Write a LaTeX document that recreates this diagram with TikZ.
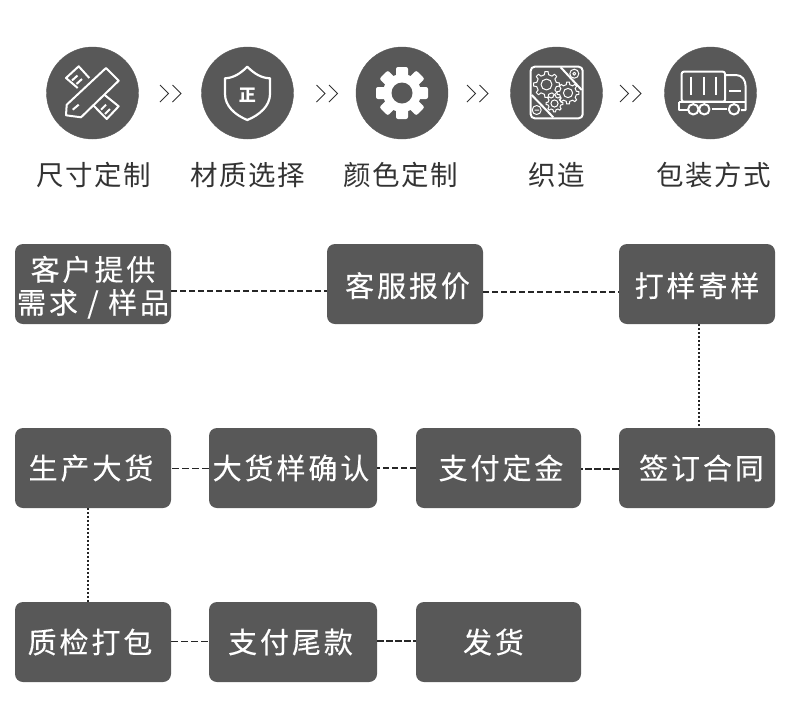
\documentclass[tikz,border=0pt]{standalone}
\usepackage{fontspec}
\newfontfamily\cjkbox[LetterSpace=10,FakeBold=0.3]{Noto Sans CJK SC}
\newfontfamily\cjklabel[LetterSpace=5]{Noto Sans CJK SC}
\newfontfamily\cjkplain{Noto Sans CJK SC}
\definecolor{boxgray}{HTML}{585858}
\definecolor{labelgray}{HTML}{333333}
\tikzset{
	hop/.style={draw=boxgray,fill=boxgray,shape=circle,inner sep=0pt,minimum size=92pt},
	stepbox/.style={fill=boxgray,rounded corners=8pt,text=white,align=center,inner sep=0pt,minimum height=80pt,font=\cjkbox\fontsize{29}{33}\selectfont},
	caption/.style={text=labelgray,inner sep=0pt,font=\cjklabel\fontsize{27.5}{32}\selectfont},
	icon/.style={draw=white,line width=2pt,line join=round},
	fine/.style={draw=white,line width=1pt,line join=round},
	thinlink/.style={draw=black!85,line width=1pt,dash pattern=on 7pt off 3pt},
	midlink/.style={draw=black!85,line width=1.6pt,dash pattern=on 6pt off 3pt},
	thicklink/.style={draw=black!85,line width=2.2pt,dash pattern=on 7pt off 2pt},
	dotlink/.style={draw=black!85,line width=1.5pt,dash pattern=on 2pt off 2pt}
}
\newcommand{\toothwheel}[4]{%
	\draw[fine,shift={(#1,#2)}] (-22.5+12:#4)
		\foreach \goc in {0,45,...,315}{
			-- (\goc-12:#4) -- (\goc-7:#3) -- (\goc+7:#3) -- (\goc+12:#4) -- (\goc+33:#4)
		};
	\draw[fine] (#1,#2) circle (0.42*#3);
}
\usetikzlibrary{positioning}

\begin{document}
\begin{tikzpicture}[x=1pt,y=-1pt]
	\useasboundingbox (0,0) rectangle (790,716);
	% top row
	\foreach \ten/\x in {ruler/92.5,shield/247.5,gear/402,machine/556.5,truck/710.5}{
		\node[hop] (\ten) at (\x,93) {};
	}
	\foreach \x in {160,316.5,467,620}{
		\draw[labelgray,line width=1pt] (\x,85) -- ++(8.5,8.5) -- ++(-8.5,8.5)
			(\x+12.5,85) -- ++(8.5,8.5) -- ++(-8.5,8.5);
	}
	\foreach \ten/\x/\txt in {cruler/94/尺寸定制,cshield/247.5/材质选择,cgear/400.5/颜色定制,cmachine/557/织造,ctruck/713.5/包装方式}{
		\node[caption] (\ten) at (\x,175) {\txt};
	}
	% ruler and pencil
	\draw[icon] (89.3,78) -- (78.7,66.3) -- (66,78) -- (77.7,88)
		(104.3,94.7) -- (118.7,106.3) -- (106.7,119) -- (92.7,104.7);
	\draw[icon] (106,68) -- (118.7,80.7) -- (81,117.3) -- (66,115.3) -- (66.7,104.7) -- cycle;
	\draw[icon] (72.7,109.7) -- (78.7,104.7);
	\draw[icon] (72,80.5) -- (77.5,75.5) (76.5,84) -- (82,79)
		(101,109.7) -- (106,104.7) (105,114) -- (110,109);
	% shield
	\draw[icon,line width=2.2pt] (247.3,66.7) .. controls (240,74) and (233,78) .. (225,78.3)
		-- (225,94) .. controls (225,106) and (235,115) .. (247.3,120)
		.. controls (259.5,115) and (270,106) .. (270,94) -- (270,78.3)
		.. controls (261.5,78) and (254.5,74) .. (247.3,66.7) -- cycle;
	\node[text=white,inner sep=0pt,font=\cjkplain\bfseries\fontsize{17}{17}\selectfont] (zheng) at (247.3,95) {正};
	% filled gear
	\fill[white] (gear.center) circle (19);
	\foreach \goc in {0,45,...,315}{
		\fill[white,rotate around={\goc:(402,93)},rounded corners=2pt] (396,67) rectangle (408,82);
	}
	\fill[boxgray] (gear.center) circle (10.5);
	% machine plate
	\draw[icon,rounded corners=4pt] (530.7,66.7) rectangle (582.7,118.3);
	\draw[icon] (560.7,67.3) -- (581.7,90) (531.7,95) -- (553.3,117.3);
	\draw[fine] (574.3,73.7) circle (4.5) (574.3,73.7) circle (1.5);
	\draw[fine] (536.7,110) circle (4.5) (534.5,110) -- (539,110);
	\toothwheel{546.5}{84.5}{13}{10}
	\toothwheel{568}{93}{11}{8.5}
	\toothwheel{554.5}{103.5}{8.5}{6.5}
	% truck
	\draw[icon,rounded corners=2pt] (725,101.7) -- (681.7,101.7) -- (681.7,71.7) -- (725,71.7) -- cycle;
	\draw[icon] (691,76.7) -- (691,95) (704,76.7) -- (704,95) (715.7,76.7) -- (715.7,95);
	\draw[icon] (725,75) -- (736,75) .. controls (742,75) and (745.7,80) .. (745.7,87) -- (745.7,110) -- (741,110);
	\draw[icon] (679.3,101.7) -- (745.7,101.7) (679.3,101.7) -- (679.3,110) -- (688,110);
	\draw[icon] (729.3,90.7) -- (741,90.7) (711.7,109.3) -- (727,109.3);
	\draw[icon] (693.3,109.3) circle (5.2) (704.3,109.3) circle (5.2) (734,109.3) circle (5.2);
	% boxes
	\foreach \ten/\x/\y/\w/\txt in {
		need/93/284/156/{\rule{0pt}{31pt}客户提供\\需求 / 样品},
		quote/405/284/156/{\rule{0pt}{28pt}\hspace*{5pt}客服报价},
		sample/697/284/156/{\rule{0pt}{28pt}打样寄样},
		sign/697/468/156/{\hspace*{9pt}签订合同},
		deposit/498.5/468/165/{\hspace*{5pt}支付定金},
		confirm/293/468/168/{大货样确认\hspace*{4pt}},
		produce/93/468/156/{生产大货\hspace*{4pt}},
		check/93/642/156/{质检打包\hspace*{6pt}},
		balance/293/642/168/{支付尾款\hspace*{5pt}},
		ship/498.5/642/165/{发货\hspace*{10pt}}}{
		\node[stepbox,minimum width=\w pt] (\ten) at (\x,\y) {\txt};
	}
	% links
	\draw[midlink] ([yshift=-7pt]need.east) -- ([yshift=-7pt]quote.west);
	\draw[midlink] ([yshift=-8pt]quote.east) -- ([yshift=-8pt]sample.west);
	\draw[dotlink] ([xshift=2pt]sample.south) -- ([xshift=2pt]sign.north);
	\draw[thicklink] ([yshift=-1pt]sign.west) -- ([yshift=-1pt]deposit.east);
	\draw[midlink] (deposit) -- (confirm);
	\draw[thinlink] (confirm) -- (produce);
	\draw[dotlink] ([xshift=-5pt]produce.south) -- ([xshift=-5pt]check.north);
	\draw[thinlink] ([yshift=1pt]check.east) -- ([yshift=1pt]balance.west);
	\draw[thicklink] ([yshift=1pt]balance.east) -- ([yshift=1pt]ship.west);
\end{tikzpicture}
\end{document}
